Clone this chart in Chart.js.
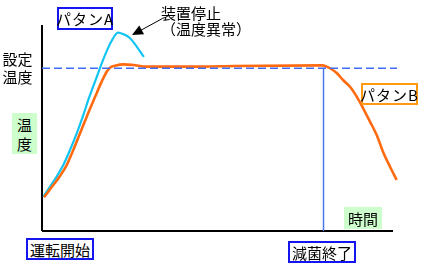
<!DOCTYPE html>
<html><head><meta charset="utf-8">
<script src="https://cdn.jsdelivr.net/npm/chart.js@4"></script>
<style>
html,body{margin:0;padding:0;background:#fff;}
#wrap{position:relative;width:433px;height:267px;overflow:hidden;}
canvas{position:absolute;left:0;top:0;}
.lb{position:absolute;box-sizing:border-box;font-family:"Noto Sans CJK JP","Noto Sans",sans-serif;font-size:15px;line-height:1;color:#000;display:flex;align-items:center;justify-content:center;white-space:nowrap;}
.blue{border:2px solid #1515f0;background:#fff;}
.orange{border:2px solid #ff9a10;background:#fff;}
.green{background:#ccffcc;}
</style></head><body>
<div id="wrap">
<canvas id="c" width="433" height="267"></canvas>
<div class="lb blue" style="left:57px;top:7px;width:56px;height:23px;letter-spacing:1px;">パタンA</div>
<div class="lb orange" style="left:361px;top:83px;width:57px;height:22px;letter-spacing:1px;">パタンB</div>
<div class="lb blue" style="left:26px;top:238px;width:68px;height:22px;">運転開始</div>
<div class="lb blue" style="left:288px;top:241px;width:68px;height:22px;">減菌終了</div>
<div class="lb green" style="left:344px;top:207px;width:38px;height:22px;">時間</div>
<div class="lb green" style="left:12px;top:113px;width:25px;height:41px;flex-direction:column;line-height:19px;">温<br>度</div>
<div class="lb" style="left:1px;top:49px;width:33px;height:37px;flex-direction:column;line-height:18px;">設定<br>温度</div>
<div class="lb" style="left:161px;top:4px;width:80px;height:34px;flex-direction:column;align-items:flex-start;line-height:16px;"><span>装置停止</span><span>（温度異常）</span></div>
</div>
<script>
// time (0-100) and temperature (0-100) values
const patternA_t = [0.36, 2.22, 4.08, 5.92, 7.78, 9.64, 11.47, 12.86, 14.72, 17.5, 19.4, 21.1, 22.5, 24.4, 26.4, 28.3];
const patternA_v = [16.6, 21.5, 26.4, 32.0, 39.3, 47.4, 56.3, 63.6, 72.5, 85.4, 92.5, 96.3, 95.6, 93.7, 89.3, 84.5];
const patternB_t = [0.56, 3.14, 5.0, 6.86, 8.69, 10.56, 12.42, 14.72, 16.58, 17.97, 18.89, 20.28, 22.58, 25.28, 29.08, 43.06, 53.6, 77.8, 79.08, 80.0, 81.86, 83.61, 85.56, 87.42, 89.17, 91.11, 92.97, 94.72, 96.67, 98.53];
const patternB_v = [16.4, 22.3, 26.7, 32.0, 39.3, 47.4, 55.5, 65.0, 72.5, 77.3, 79.3, 80.2, 80.9, 80.6, 79.8, 79.8, 80.1, 80.4, 79.8, 79.0, 76.7, 73.3, 70.0, 65.2, 59.7, 53.1, 46.6, 38.5, 31.2, 24.8];
const setTemp = 79.0;      // 設定温度
const sterilEnd = 78.2;    // 減菌終了 time
const axisTimeEnd = 97.5;
const setLineEnd = 98.6;
const axisTempTop = 100;

const zip = (a, b) => a.map((x, i) => ({x: x, y: b[i]}));

const arrowPlugin = {
  id: 'arrow',
  afterDatasetsDraw(chart) {
    const {ctx, scales: {x, y}} = chart;
    const tx = x.getPixelForValue(25.0), ty = y.getPixelForValue(95.1);
    const sx = x.getPixelForValue(33.3), sy = y.getPixelForValue(103.0);
    ctx.save();
    ctx.strokeStyle = '#000'; ctx.fillStyle = '#000'; ctx.lineWidth = 1;
    const ang = Math.atan2(ty - sy, tx - sx);
    ctx.beginPath(); ctx.moveTo(sx, sy); ctx.lineTo(tx - 8 * Math.cos(ang), ty - 8 * Math.sin(ang)); ctx.stroke();
    const L = 11, W = 5;
    ctx.beginPath();
    ctx.moveTo(tx, ty);
    ctx.lineTo(tx - L * Math.cos(ang) + W * Math.sin(ang), ty - L * Math.sin(ang) - W * Math.cos(ang));
    ctx.lineTo(tx - L * Math.cos(ang) - W * Math.sin(ang), ty - L * Math.sin(ang) + W * Math.cos(ang));
    ctx.closePath(); ctx.fill();
    ctx.restore();
  }
};

new Chart(document.getElementById('c'), {
  type: 'scatter',
  data: {
    datasets: [
      {label: 'setTemp', data: [{x: 0, y: setTemp}, {x: setLineEnd, y: setTemp}], showLine: true, borderColor: '#3f6cf2', borderWidth: 1.5, borderDash: [8, 4], pointRadius: 0},
      {label: 'sterilEnd', data: [{x: sterilEnd, y: 0}, {x: sterilEnd, y: setTemp}], showLine: true, borderColor: '#4a78ea', borderWidth: 1.5, pointRadius: 0},
      {label: 'B', data: zip(patternB_t, patternB_v), showLine: true, borderColor: '#ff6a10', borderWidth: 2.6, pointRadius: 0, cubicInterpolationMode: 'monotone'},
      {label: 'A', data: zip(patternA_t, patternA_v), showLine: true, borderColor: '#12c4f2', borderWidth: 2.2, pointRadius: 0, cubicInterpolationMode: 'monotone'},
      {label: 'yaxis', data: [{x: 0, y: 0}, {x: 0, y: axisTempTop}], showLine: true, borderColor: '#000', borderWidth: 2, pointRadius: 0},
      {label: 'xaxis', data: [{x: 0, y: 0}, {x: axisTimeEnd, y: 0}], showLine: true, borderColor: '#000', borderWidth: 2, pointRadius: 0}
    ]
  },
  options: {
    responsive: false, animation: false, devicePixelRatio: 1,
    layout: {padding: {left: 42, right: 31, top: 25, bottom: 36}},
    plugins: {legend: {display: false}, tooltip: {enabled: false}},
    scales: {
      x: {type: 'linear', display: false, min: 0, max: 100},
      y: {type: 'linear', display: false, min: 0, max: 100}
    },
    clip: false
  },
  plugins: [arrowPlugin]
});
</script>
</body></html>
